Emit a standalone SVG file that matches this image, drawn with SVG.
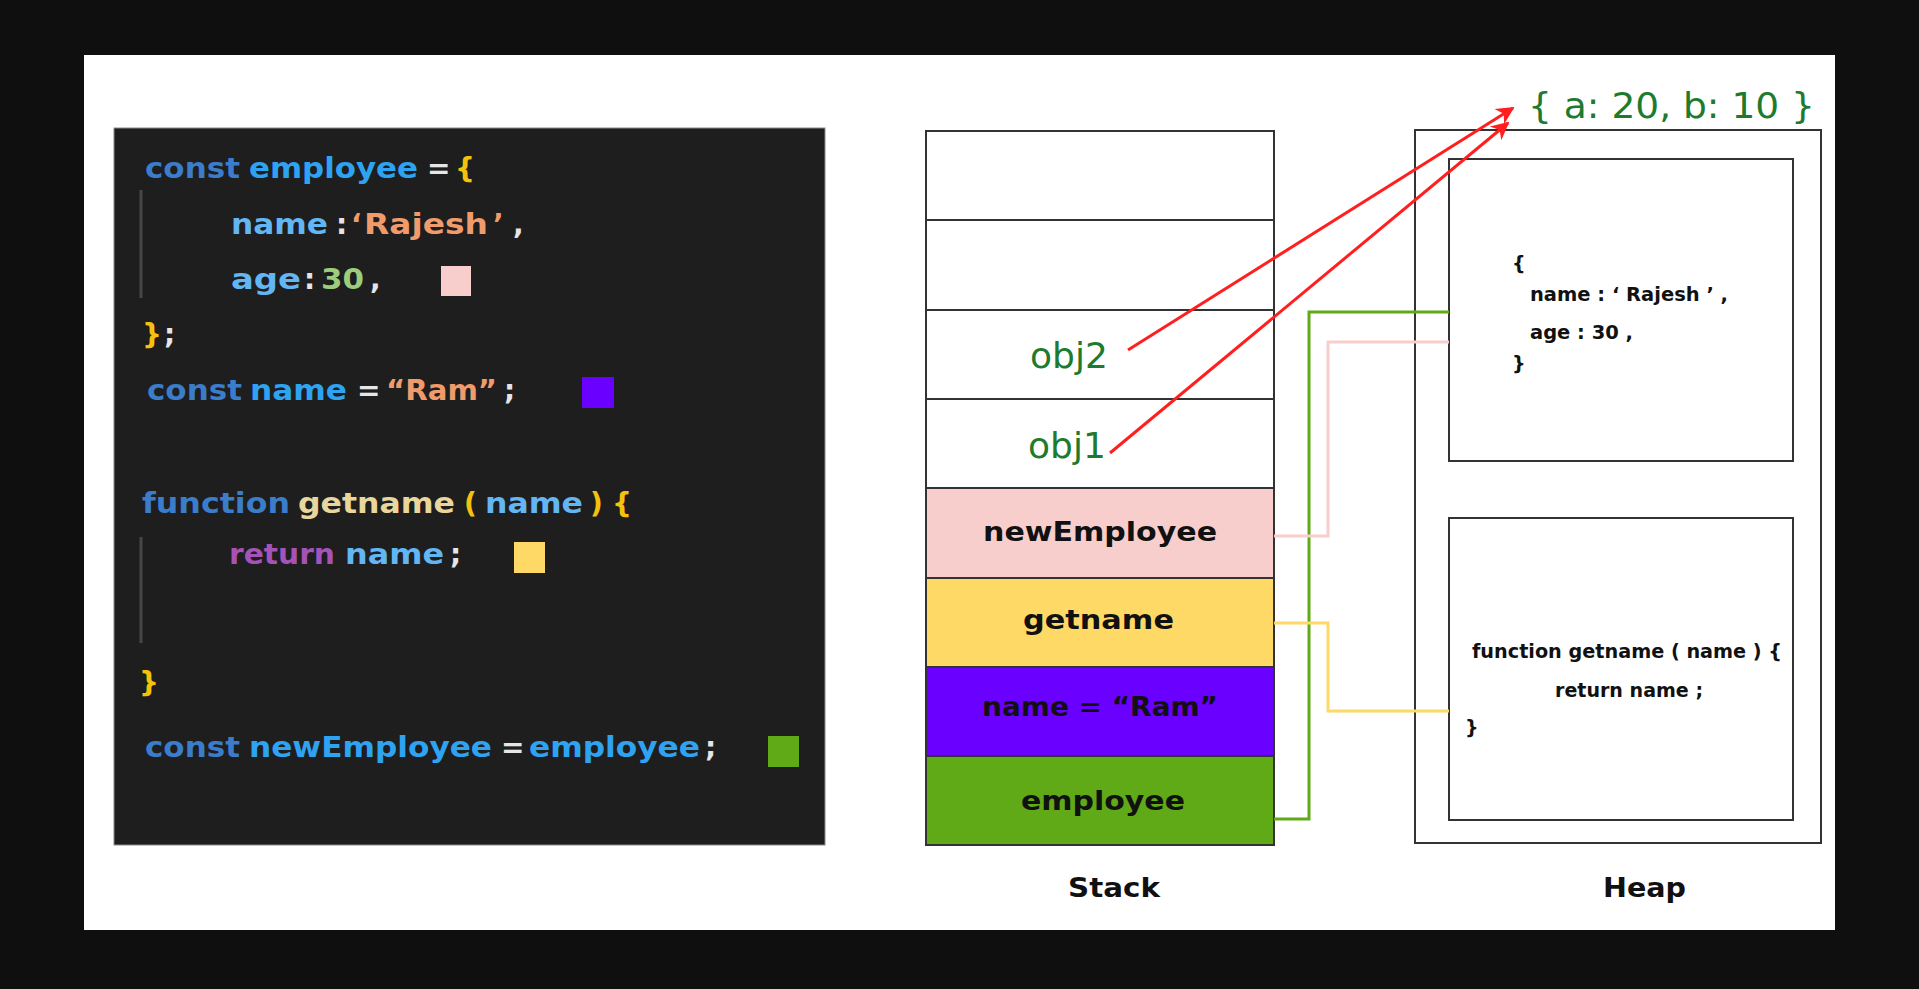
<svg xmlns="http://www.w3.org/2000/svg" width="1919" height="989" viewBox="0 0 1919 989">
<style>
.code{font-family:"DejaVu Sans","Liberation Sans",sans-serif;font-weight:bold;font-size:28px}
.kw{fill:#3b7ccb}.id{fill:#2ea3f2}.prop{fill:#62b6f4}.str{fill:#ef9b6c}.num{fill:#9ccc7c}.br{fill:#f4c20d}.pu{fill:#e6e6e6}.fn{fill:#e9d69c}.ret{fill:#a553b8}
.lbl{font-family:"DejaVu Sans","Liberation Sans",sans-serif;font-weight:bold;font-size:26px;fill:#111}
.heap{font-family:"DejaVu Sans","Liberation Sans",sans-serif;font-weight:bold;font-size:19px;fill:#111}
.gr{font-family:"DejaVu Sans","Liberation Sans",sans-serif;font-size:36px;fill:#1e7a2d}
.cell{stroke:#333;stroke-width:2}
.box{fill:#fff;stroke:#333;stroke-width:2}
.conn{fill:none;stroke-width:3}
.red{fill:none;stroke:#ff1f1f;stroke-width:3}
</style>
<defs>
<marker id="arr" viewBox="0 0 10 10" refX="9" refY="5" markerWidth="22" markerHeight="18" markerUnits="userSpaceOnUse" orient="auto">
<path d="M0,0 L10,5 L0,10 L3,5 z" fill="#ff1f1f"/>
</marker>
</defs>
<rect x="0" y="0" width="1919" height="989" fill="#0f0f0f"/>
<rect x="84" y="55" width="1751" height="875" fill="#ffffff"/>

<g id="code">
<rect x="114" y="128" width="711" height="717" fill="#1e1e1e" stroke="#8a8a8a" stroke-width="1"/>
<line x1="141" y1="190" x2="141" y2="298" stroke="#474747" stroke-width="3"/>
<line x1="141" y1="537" x2="141" y2="643" stroke="#474747" stroke-width="3"/>
<g class="code">
<text x="145" y="178" class="kw" textLength="95" lengthAdjust="spacingAndGlyphs">const</text>
<text x="249" y="178" class="id" textLength="169" lengthAdjust="spacingAndGlyphs">employee</text>
<text x="427" y="178" class="pu">=</text>
<text x="455" y="178" class="br">{</text>

<text x="231" y="234" class="prop" textLength="97" lengthAdjust="spacingAndGlyphs">name</text>
<text x="336" y="234" class="pu">:</text>
<text x="351" y="234" class="str">‘</text>
<text x="364" y="234" class="str" textLength="124" lengthAdjust="spacingAndGlyphs">Rajesh</text>
<text x="493" y="234" class="str">’</text>
<text x="513" y="234" class="pu">,</text>

<text x="231" y="289" class="prop" textLength="70" lengthAdjust="spacingAndGlyphs">age</text>
<text x="304" y="289" class="pu">:</text>
<text x="321" y="289" class="num" textLength="43" lengthAdjust="spacingAndGlyphs">30</text>
<text x="370" y="289" class="pu">,</text>

<text x="142" y="344" class="br">}</text>
<text x="164" y="344" class="pu">;</text>

<text x="147" y="400" class="kw" textLength="95" lengthAdjust="spacingAndGlyphs">const</text>
<text x="250" y="400" class="id" textLength="97" lengthAdjust="spacingAndGlyphs">name</text>
<text x="357" y="400" class="pu">=</text>
<text x="386" y="400" class="str" textLength="111" lengthAdjust="spacingAndGlyphs">“Ram”</text>
<text x="504" y="400" class="pu">;</text>

<text x="142" y="513" class="kw" textLength="148" lengthAdjust="spacingAndGlyphs">function</text>
<text x="298" y="513" class="fn" textLength="157" lengthAdjust="spacingAndGlyphs">getname</text>
<text x="464" y="513" class="br">(</text>
<text x="485" y="513" class="prop" textLength="98" lengthAdjust="spacingAndGlyphs">name</text>
<text x="590" y="513" class="br">)</text>
<text x="612" y="513" class="br">{</text>

<text x="229" y="564" class="ret" textLength="106" lengthAdjust="spacingAndGlyphs">return</text>
<text x="345" y="564" class="prop" textLength="99" lengthAdjust="spacingAndGlyphs">name</text>
<text x="450" y="564" class="pu">;</text>

<text x="139" y="692" class="br">}</text>

<text x="145" y="757" class="kw" textLength="95" lengthAdjust="spacingAndGlyphs">const</text>
<text x="249" y="757" class="id" textLength="243" lengthAdjust="spacingAndGlyphs">newEmployee</text>
<text x="501" y="757" class="pu">=</text>
<text x="529" y="757" class="id" textLength="171" lengthAdjust="spacingAndGlyphs">employee</text>
<text x="705" y="757" class="pu">;</text>
</g>
<rect x="441" y="266" width="30" height="30" fill="#f8cecc"/>
<rect x="582" y="377" width="32" height="31" fill="#6a00ff"/>
<rect x="514" y="542" width="31" height="31" fill="#ffd966"/>
<rect x="768" y="736" width="31" height="31" fill="#60a917"/>
</g>

<g id="stack">
<rect x="926" y="131" width="348" height="89" fill="#ffffff" class="cell"/>
<rect x="926" y="220" width="348" height="90" fill="#ffffff" class="cell"/>
<rect x="926" y="310" width="348" height="89" fill="#ffffff" class="cell"/>
<rect x="926" y="399" width="348" height="89" fill="#ffffff" class="cell"/>
</g>
<g id="stack-newEmployee">
<rect x="926" y="488" width="348" height="90" fill="#f8cecc" class="cell"/>
<text x="983" y="541" class="lbl" textLength="234" lengthAdjust="spacingAndGlyphs">newEmployee</text>
</g>
<g id="stack-getname">
<rect x="926" y="578" width="348" height="89" fill="#ffd966" class="cell"/>
<text x="1023" y="629" class="lbl" textLength="151" lengthAdjust="spacingAndGlyphs">getname</text>
</g>
<g id="stack-name">
<rect x="926" y="667" width="348" height="89" fill="#6a00ff" class="cell"/>
<text x="982" y="716" class="lbl" textLength="236" lengthAdjust="spacingAndGlyphs">name = “Ram”</text>
</g>
<g id="stack-employee">
<rect x="926" y="756" width="348" height="89" fill="#60a917" class="cell"/>
<text x="1021" y="810" class="lbl" textLength="164" lengthAdjust="spacingAndGlyphs">employee</text>
</g>
<g id="stack-label">
<text x="1068" y="897" class="lbl" textLength="92" lengthAdjust="spacingAndGlyphs">Stack</text>
</g>

<g id="heap">
<rect x="1415" y="130" width="406" height="713" class="box"/>
<text x="1603" y="897" class="lbl" textLength="83" lengthAdjust="spacingAndGlyphs">Heap</text>
</g>
<g id="heap-object">
<rect x="1449" y="159" width="344" height="302" class="box"/>
<text x="1512" y="270" class="heap">{</text>
<text x="1530" y="301" class="heap" textLength="198" lengthAdjust="spacingAndGlyphs">name : ‘ Rajesh ’ ,</text>
<text x="1530" y="339" class="heap" textLength="103" lengthAdjust="spacingAndGlyphs">age : 30 ,</text>
<text x="1512" y="370" class="heap">}</text>
</g>
<g id="heap-function">
<rect x="1449" y="518" width="344" height="302" class="box"/>
<text x="1472" y="658" class="heap" textLength="310" lengthAdjust="spacingAndGlyphs">function getname ( name ) {</text>
<text x="1555" y="697" class="heap" textLength="148" lengthAdjust="spacingAndGlyphs">return name ;</text>
<text x="1465" y="734" class="heap">}</text>
</g>

<g id="obj-value">
<text x="1528" y="118" class="gr" textLength="287" lengthAdjust="spacingAndGlyphs">{ a: 20, b: 10 }</text>
</g>
<g id="obj2">
<text x="1030" y="368" class="gr">obj2</text>
</g>
<g id="obj1">
<text x="1028" y="458" class="gr">obj1</text>
</g>

<g id="connectors">
<path class="conn" stroke="#60a917" d="M1274,819 H1309 V312 H1449"/>
<path class="conn" stroke="#f8cecc" d="M1274,536 H1328 V342 H1449"/>
<path class="conn" stroke="#ffd966" d="M1274,623 H1328 V711 H1449"/>
<path class="red" d="M1128,350 L1513,108" marker-end="url(#arr)"/>
<path class="red" d="M1110,453 L1508,123" marker-end="url(#arr)"/>
</g>
</svg>
